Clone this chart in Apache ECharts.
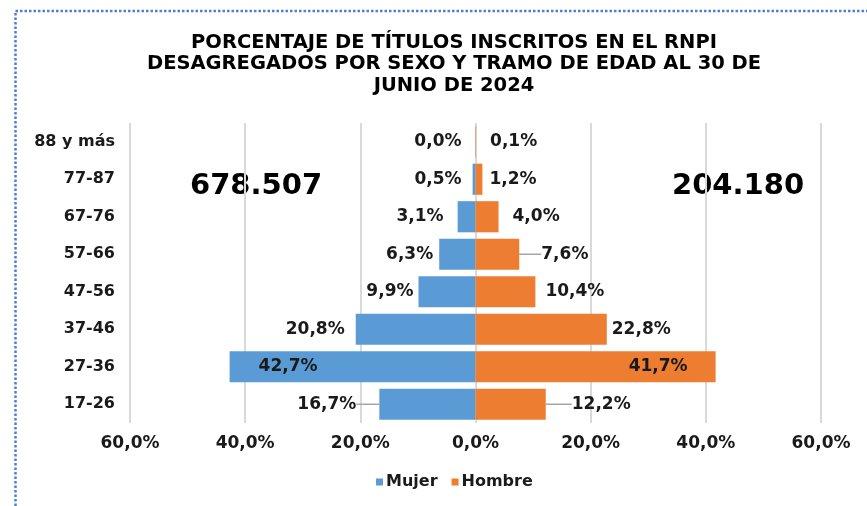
<!DOCTYPE html>
<html>
<head>
<meta charset="utf-8">
<script src="https://cdn.jsdelivr.net/npm/echarts@6/dist/echarts.min.js"></script>
<style>
  html, body { margin: 0; padding: 0; background: #fff; }
  #chart { width: 867px; height: 506px; }
</style>
</head>
<body>
<div id="chart"></div>
<script>
  // datos (de abajo hacia arriba)
  const categories = ['17-26', '27-36', '37-46', '47-56', '57-66', '67-76', '77-87', '88 y más'];
  const mujer = [16.7, 42.7, 20.8, 9.9, 6.3, 3.1, 0.5, 0.0];
  const hombre = [12.2, 41.7, 22.8, 10.4, 7.6, 4.0, 1.2, 0.1];
  const totalMujer = '678.507';
  const totalHombre = '204.180';
  const titleText = 'PORCENTAJE DE TÍTULOS INSCRITOS EN EL RNPI\nDESAGREGADOS POR SEXO Y TRAMO DE EDAD AL 30 DE\nJUNIO DE 2024';

  const verdana = "'DejaVu Sans', Verdana, sans-serif";

  // separación de etiquetas (px) — estilo, no datos
  const gapMujer = [5, 29, 11, 5, 6, 14, 11, 14];
  const gapHombre = [6, 28, 5, 10, 6, 14, 7, 14];
  const inside = 1; // indice de la barra con etiqueta dentro
  const leaderMujer = { 0: -18 };
  const leaderHombre = { 0: 20, 4: 16 };

  const fmt = v => Math.abs(v).toFixed(1).replace('.', ',') + '%';

  const chart = echarts.init(document.getElementById('chart'));

  const mkData = (vals, gaps, sign, side, leaders) => vals.map((v, i) => ({
    value: sign * v,
    label: {
      position: i === inside ? (side === 'left' ? 'insideLeft' : 'insideRight') : side,
      distance: gaps[i]
    },
    labelLine: { show: !!leaders[i] }
  }));

  const labelBase = {
    show: true,
    formatter: p => fmt(p.value),
    fontFamily: verdana,
    fontWeight: 'bold',
    fontSize: 17,
    color: '#1a1a1a'
  };

  const option = {
    animation: false,
    backgroundColor: '#fff',
    title: {
      text: titleText,
      left: 449,
      top: 27,
      textAlign: 'center',
      textStyle: {
        fontFamily: verdana,
        fontWeight: 'bold',
        fontSize: 19.5,
        lineHeight: 21.5,
        color: '#000'
      }
    },
    grid: { left: 130, right: 46, top: 123, bottom: 83, containLabel: false },
    legend: {
      data: ['Mujer', 'Hombre'],
      left: 371,
      top: 469,
      icon: 'rect',
      itemWidth: 7,
      itemHeight: 7,
      itemGap: 14,
      textStyle: { fontFamily: verdana, fontWeight: 'bold', fontSize: 16, color: '#1a1a1a', padding: [0, 0, 0, -2] }
    },
    xAxis: {
      type: 'value',
      min: -60,
      max: 60,
      interval: 20,
      axisLine: { show: false },
      axisTick: { show: false },
      splitLine: { show: true, lineStyle: { color: '#d9d9d9', width: 2 } },
      axisLabel: {
        formatter: v => fmt(v),
        margin: 12,
        fontFamily: verdana,
        fontWeight: 'bold',
        fontSize: 17,
        color: '#1a1a1a'
      }
    },
    yAxis: {
      type: 'category',
      data: categories,
      axisLine: { show: false },
      axisTick: { show: false },
      axisLabel: {
        margin: 15,
        fontFamily: verdana,
        fontWeight: 'bold',
        fontSize: 16,
        color: '#1a1a1a'
      }
    },
    series: [
      {
        name: 'Mujer',
        type: 'bar',
        stack: 'total',
        barCategoryGap: '17%',
        color: '#5B9BD5',
        data: mkData(mujer, gapMujer, -1, 'left', leaderMujer),
        label: labelBase,
        labelLine: { show: false, lineStyle: { color: '#a6a6a6', width: 1.5 } },
        labelLayout: p => (leaderMujer[p.dataIndex] ? { dx: leaderMujer[p.dataIndex] } : {})
      },
      {
        name: 'Hombre',
        type: 'bar',
        stack: 'total',
        barCategoryGap: '17%',
        color: '#ED7D31',
        data: mkData(hombre, gapHombre, 1, 'right', leaderHombre),
        label: labelBase,
        labelLine: { show: false, lineStyle: { color: '#a6a6a6', width: 1.5 } },
        labelLayout: p => (leaderHombre[p.dataIndex] ? { dx: leaderHombre[p.dataIndex] } : {})
      }
    ],
    graphic: [
      {
        type: 'polyline',
        silent: true,
        shape: { points: [[15.5, 506], [15.5, 11], [867, 11]] },
        style: { fill: null, stroke: '#4f7fd0', lineWidth: 2.5, lineDash: [2.5, 2] }
      },
      {
        type: 'text',
        left: 190,
        top: 172,
        style: { text: totalMujer, font: "bold 29px 'DejaVu Sans'", fill: '#000' }
      },
      {
        type: 'text',
        left: 672,
        top: 172,
        style: { text: totalHombre, font: "bold 29px 'DejaVu Sans'", fill: '#000' }
      }
    ]
  };

  chart.setOption(option);
</script>
</body>
</html>
